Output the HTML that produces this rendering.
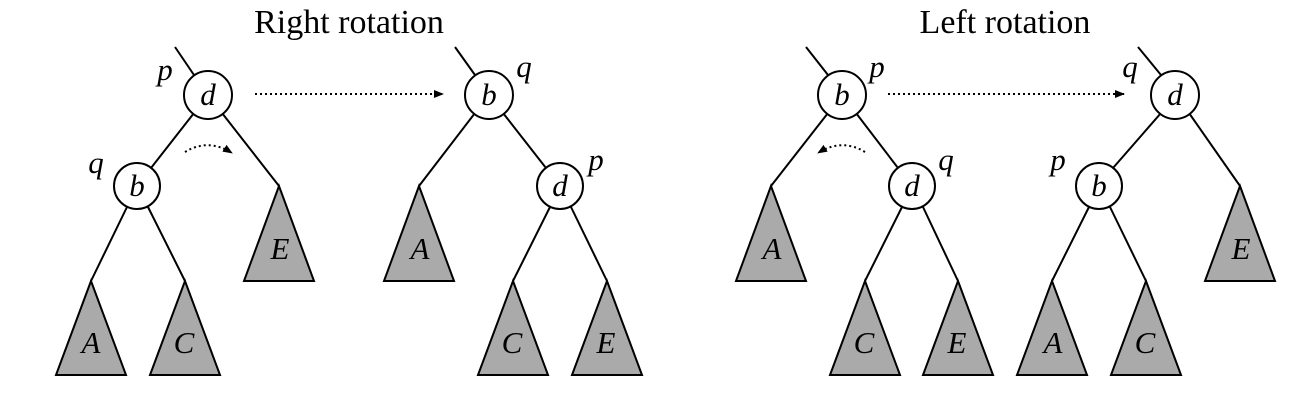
<!DOCTYPE html>
<html><head><style>body{margin:0;background:#fff}</style></head><body>
<svg width="1302" height="402" xmlns="http://www.w3.org/2000/svg" font-family="Liberation Serif, serif">
<defs><marker id="ah" markerWidth="10" markerHeight="8" refX="9" refY="4" orient="auto" markerUnits="userSpaceOnUse"><path d="M0,0 L10,4 L0,8 z" fill="#000"/></marker></defs>
<g stroke="#000" stroke-width="2" fill="none">
<line x1="175" y1="47" x2="194" y2="75"/>
<line x1="194" y1="113" x2="151" y2="168"/>
<line x1="222" y1="113" x2="279" y2="186"/>
<line x1="127" y1="207" x2="91" y2="281"/>
<line x1="148" y1="207" x2="185" y2="281"/>
<line x1="455" y1="47" x2="475" y2="75"/>
<line x1="475" y1="113" x2="419" y2="186"/>
<line x1="503" y1="113" x2="546" y2="168"/>
<line x1="550" y1="207" x2="513" y2="281"/>
<line x1="571" y1="207" x2="607" y2="281"/>
<line x1="806" y1="47" x2="828" y2="75"/>
<line x1="828" y1="113" x2="771" y2="186"/>
<line x1="856" y1="113" x2="898" y2="168"/>
<line x1="902" y1="207" x2="865" y2="281"/>
<line x1="923" y1="207" x2="958" y2="281"/>
<line x1="1138" y1="47" x2="1161" y2="75"/>
<line x1="1161" y1="113" x2="1113" y2="168"/>
<line x1="1189" y1="113" x2="1240" y2="186"/>
<line x1="1089" y1="207" x2="1052" y2="281"/>
<line x1="1110" y1="207" x2="1146" y2="281"/>
</g>
<g stroke="#000" stroke-width="2" fill="#fff">
<circle cx="208" cy="95" r="24"/><circle cx="137" cy="186" r="23"/>
<circle cx="489" cy="95" r="24"/><circle cx="560" cy="186" r="23"/>
<circle cx="842" cy="95" r="24"/><circle cx="912" cy="186" r="23"/>
<circle cx="1175" cy="95" r="24"/><circle cx="1099" cy="186" r="23"/>
</g>
<g stroke="#000" stroke-width="2" fill="#aaa">
<path d="M279,186 L244,281 L314,281 Z"/><path d="M91,281 L56,375 L126,375 Z"/><path d="M185,281 L150,375 L220,375 Z"/>
<path d="M419,186 L384,281 L454,281 Z"/><path d="M513,281 L478,375 L548,375 Z"/><path d="M607,281 L572,375 L642,375 Z"/>
<path d="M771,186 L736,281 L806,281 Z"/><path d="M865,281 L830,375 L900,375 Z"/><path d="M958,281 L923,375 L993,375 Z"/>
<path d="M1240,186 L1205,281 L1275,281 Z"/><path d="M1052,281 L1017,375 L1087,375 Z"/><path d="M1146,281 L1111,375 L1181,375 Z"/>
</g>
<g stroke="#000" stroke-width="2" fill="none" stroke-dasharray="2,3">
<line x1="255" y1="94" x2="443" y2="94" marker-end="url(#ah)"/>
<line x1="888" y1="94" x2="1124" y2="94" marker-end="url(#ah)"/>
<path d="M185,152 Q208,138 232,153" marker-end="url(#ah)"/>
<path d="M865,152 Q842,138 818,153" marker-end="url(#ah)"/>
</g>
<g font-size="34" text-anchor="middle">
<text x="349" y="33">Right rotation</text>
<text x="1005" y="33">Left rotation</text>
</g>
<g font-size="31" font-style="italic" text-anchor="middle">
<text x="208" y="105">d</text><text x="137" y="196">b</text>
<text x="489" y="105">b</text><text x="560" y="196">d</text>
<text x="842" y="105">b</text><text x="912" y="196">d</text>
<text x="1175" y="105">d</text><text x="1099" y="196">b</text>
<text x="165" y="80">p</text><text x="96" y="173">q</text>
<text x="524" y="77">q</text><text x="596" y="170">p</text>
<text x="877" y="77">p</text><text x="946" y="170">q</text>
<text x="1130" y="77">q</text><text x="1058" y="170">p</text>
<text x="280" y="259">E</text><text x="91" y="353">A</text><text x="184" y="353">C</text>
<text x="420" y="259">A</text><text x="512" y="353">C</text><text x="606" y="353">E</text>
<text x="772" y="259">A</text><text x="864" y="353">C</text><text x="957" y="353">E</text>
<text x="1241" y="259">E</text><text x="1053" y="353">A</text><text x="1145" y="353">C</text>
</g>
</svg>
</body></html>
